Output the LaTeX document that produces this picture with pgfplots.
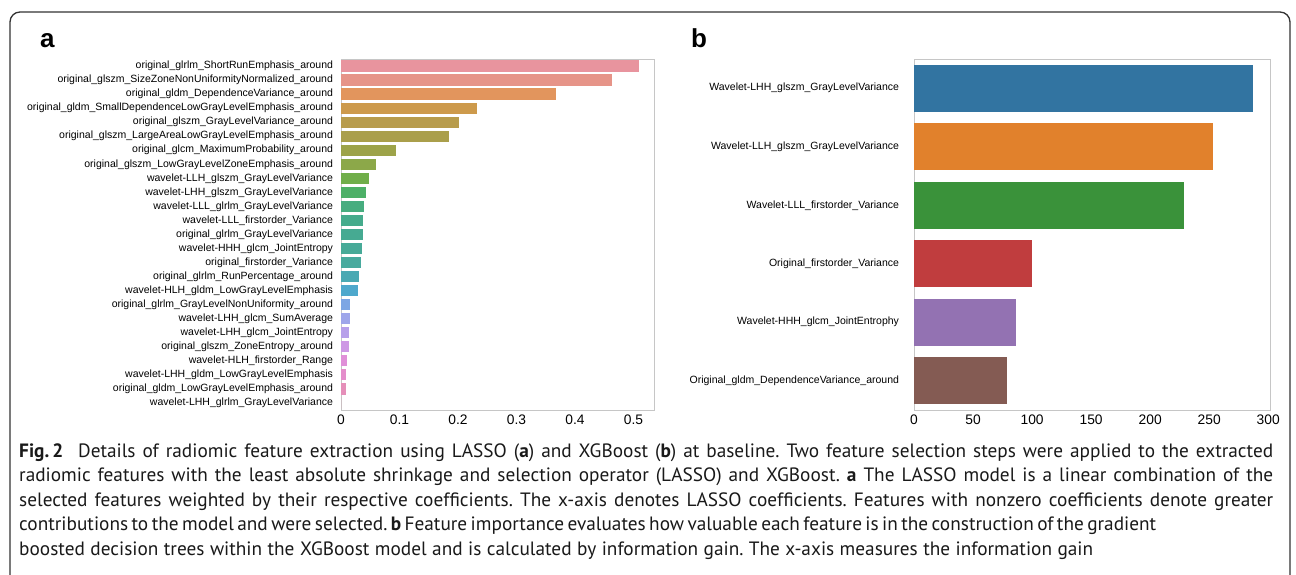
\documentclass[border=0pt]{standalone}
\usepackage{fontspec}
\setmainfont{Liberation Sans}
\newfontfamily\capfont{PT Sans}
\usepackage{pgfplots}
\pgfplotsset{compat=1.18}
\definecolor{ca0}{HTML}{E8949E}
\definecolor{ca1}{HTML}{E69488}
\definecolor{ca2}{HTML}{E2955D}
\definecolor{ca3}{HTML}{CD9A4C}
\definecolor{ca4}{HTML}{B89C4C}
\definecolor{ca5}{HTML}{AA9F4B}
\definecolor{ca6}{HTML}{9DA349}
\definecolor{ca7}{HTML}{8CA849}
\definecolor{ca8}{HTML}{70AE4A}
\definecolor{ca9}{HTML}{4DB067}
\definecolor{ca10}{HTML}{47AD7F}
\definecolor{ca11}{HTML}{45AB8C}
\definecolor{ca12}{HTML}{46AA92}
\definecolor{ca13}{HTML}{47AA98}
\definecolor{ca14}{HTML}{48AA9E}
\definecolor{ca15}{HTML}{4AA9B3}
\definecolor{ca16}{HTML}{4EA8CC}
\definecolor{ca17}{HTML}{7DA6E4}
\definecolor{ca18}{HTML}{9EA6EA}
\definecolor{ca19}{HTML}{B7A0EA}
\definecolor{ca20}{HTML}{CE98E5}
\definecolor{ca21}{HTML}{E090D8}
\definecolor{ca22}{HTML}{E48ECB}
\definecolor{ca23}{HTML}{E58FB9}
\definecolor{ca24}{HTML}{E892AB}
\definecolor{cb0}{HTML}{3274A1}
\definecolor{cb1}{HTML}{E1812C}
\definecolor{cb2}{HTML}{3A923A}
\definecolor{cb3}{HTML}{C03D3E}
\definecolor{cb4}{HTML}{9372B2}
\definecolor{cb5}{HTML}{845B53}
\pgfplotsset{
  sbstyle/.style={
    scale only axis,
    anchor=south west,
    axis line style={gray!45, line width=0.9bp},
    major tick length=0pt,
    y dir=reverse,
    /pgf/number format/assume math mode=true,
    xticklabel style={font=\fontsize{13.8bp}{15bp}\selectfont, yshift=-1.2bp},
    yticklabel style={font=\fontsize{10.5bp}{12bp}\selectfont},
  },
  hb/.style={xbar, bar shift=0pt, draw=none, fill=#1},
}
\begin{document}
\frenchspacing
\begin{tikzpicture}[x=1bp,y=1bp]
\useasboundingbox (0,0) rectangle (1296,575);
\draw[line width=1.3bp, black!80, rounded corners=10bp] (10,0) -- (10,563) -- (1290,563) -- (1290,0);
\node[anchor=base west, inner sep=0pt, font=\fontsize{26bp}{28bp}\selectfont\bfseries] at (40,527) {a};
\node[anchor=base west, inner sep=0pt, font=\fontsize{26bp}{28bp}\selectfont\bfseries] at (691,527) {b};

\begin{axis}[sbstyle,
  at={(341bp,165bp)}, width=313bp, height=351bp,
  xmin=0, xmax=0.535, ymin=-0.5, ymax=24.5,
  xtick={0,0.1,0.2,0.3,0.4,0.5},
  xticklabels={0,0.1,0.2,0.3,0.4,0.5},
  ytick={0,...,24},
  yticklabel style={xshift=-4.5bp},
  yticklabels={
    original\_glrlm\_ShortRunEmphasis\_around,
    original\_glszm\_SizeZoneNonUniformityNormalized\_around,
    original\_gldm\_DependenceVariance\_around,
    original\_gldm\_SmallDependenceLowGrayLevelEmphasis\_around,
    original\_glszm\_GrayLevelVariance\_around,
    original\_glszm\_LargeAreaLowGrayLevelEmphasis\_around,
    original\_glcm\_MaximumProbability\_around,
    original\_glszm\_LowGrayLevelZoneEmphasis\_around,
    wavelet-LLH\_glszm\_GrayLevelVariance,
    wavelet-LHH\_glszm\_GrayLevelVariance,
    wavelet-LLL\_glrlm\_GrayLevelVariance,
    wavelet-LLL\_firstorder\_Variance,
    original\_glrlm\_GrayLevelVariance,
    wavelet-HHH\_glcm\_JointEntropy,
    original\_firstorder\_Variance,
    original\_glrlm\_RunPercentage\_around,
    wavelet-HLH\_gldm\_LowGrayLevelEmphasis,
    original\_glrlm\_GrayLevelNonUniformity\_around,
    wavelet-LHH\_glcm\_SumAverage,
    wavelet-LHH\_glcm\_JointEntropy,
    original\_glszm\_ZoneEntropy\_around,
    wavelet-HLH\_firstorder\_Range,
    wavelet-LHH\_gldm\_LowGrayLevelEmphasis,
    original\_gldm\_LowGrayLevelEmphasis\_around,
    wavelet-LHH\_glrlm\_GrayLevelVariance},
  bar width=11.2bp,
]
\addplot[hb=ca0] coordinates {(0.509,0)};
\addplot[hb=ca1] coordinates {(0.463,1)};
\addplot[hb=ca2] coordinates {(0.367,2)};
\addplot[hb=ca3] coordinates {(0.233,3)};
\addplot[hb=ca4] coordinates {(0.202,4)};
\addplot[hb=ca5] coordinates {(0.185,5)};
\addplot[hb=ca6] coordinates {(0.094,6)};
\addplot[hb=ca7] coordinates {(0.060,7)};
\addplot[hb=ca8] coordinates {(0.048,8)};
\addplot[hb=ca9] coordinates {(0.042,9)};
\addplot[hb=ca10] coordinates {(0.039,10)};
\addplot[hb=ca11] coordinates {(0.038,11)};
\addplot[hb=ca12] coordinates {(0.037,12)};
\addplot[hb=ca13] coordinates {(0.036,13)};
\addplot[hb=ca14] coordinates {(0.035,14)};
\addplot[hb=ca15] coordinates {(0.030,15)};
\addplot[hb=ca16] coordinates {(0.029,16)};
\addplot[hb=ca17] coordinates {(0.016,17)};
\addplot[hb=ca18] coordinates {(0.0155,18)};
\addplot[hb=ca19] coordinates {(0.014,19)};
\addplot[hb=ca20] coordinates {(0.013,20)};
\addplot[hb=ca21] coordinates {(0.0095,21)};
\addplot[hb=ca22] coordinates {(0.009,22)};
\addplot[hb=ca23] coordinates {(0.009,23)};
\addplot[hb=ca24] coordinates {(0.0,24)};
\end{axis}

\begin{axis}[sbstyle,
  at={(914bp,165bp)}, width=356bp, height=351bp,
  xmin=0, xmax=301.5, ymin=-0.5, ymax=5.5,
  xtick={0,50,100,150,200,250,300},
  ytick={0,...,5},
  yticklabel style={xshift=-11.5bp},
  yticklabels={
    Wavelet-LHH\_glszm\_GrayLevelVariance,
    Wavelet-LLH\_glszm\_GrayLevelVariance,
    Wavelet-LLL\_firstorder\_Variance,
    Original\_firstorder\_Variance,
    Wavelet-HHH\_glcm\_JointEntrophy,
    Original\_gldm\_DependenceVariance\_around},
  bar width=46.8bp,
]
\addplot[hb=cb0] coordinates {(287,0)};
\addplot[hb=cb1] coordinates {(253,1)};
\addplot[hb=cb2] coordinates {(229,2)};
\addplot[hb=cb3] coordinates {(100,3)};
\addplot[hb=cb4] coordinates {(86,4)};
\addplot[hb=cb5] coordinates {(79,5)};
\end{axis}

\begin{scope}[every node/.style={anchor=base west, inner sep=0pt, font=\capfont\fontsize{19.3bp}{22bp}\selectfont, text=black!90}]
\node at (19,117.5) {\makebox[1254bp][s]{{\bfseries Fig.\,2}\hspace{0.4em} Details of radiomic feature extraction using LASSO ({\bfseries a}) and XGBoost ({\bfseries b}) at baseline. Two feature selection steps were applied to the extracted}};
\node at (19,93) {\makebox[1254bp][s]{radiomic features with the least absolute shrinkage and selection operator (LASSO) and XGBoost. {\bfseries a} The LASSO model is a linear combination of the}};
\node at (19,68.5) {\makebox[1254bp][s]{selected features weighted by their respective coefficients. The x-axis denotes LASSO coefficients. Features with nonzero coefficients denote greater}};
\node at (19,44) {\makebox[1136bp][s]{contributions to the model and were selected. {\bfseries b} Feature importance evaluates how valuable each feature is in the construction of the gradient}};
\node at (19,19.5) {\makebox[1074bp][s]{boosted decision trees within the XGBoost model and is calculated by information gain. The x-axis measures the information gain}};
\end{scope}
\end{tikzpicture}
\end{document}
